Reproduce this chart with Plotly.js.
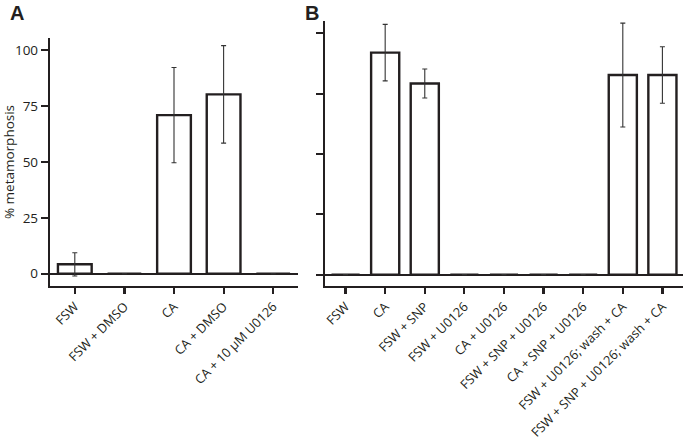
<!DOCTYPE html>
<html>
<head>
<meta charset="utf-8">
<script src="https://cdn.plot.ly/plotly-3.0.1.min.js"></script>
<style>html,body{margin:0;padding:0;background:#fff;}#chart{width:685px;height:442px;}</style>
</head>
<body>
<div id="chart"></div>
<script>
const catsA = ["FSW", "FSW + DMSO", "CA", "CA + DMSO", "CA + 10 µM U0126"];
const valsA = [4.2, 0, 70.9, 80.2, 0];
const errA = [5.2, 0, 21.3, 21.8, 0];

const catsB = ["FSW", "CA", "FSW + SNP", "FSW + U0126", "CA + U0126", "FSW + SNP + U0126",
  "CA + SNP + U0126", "FSW + U0126; wash + CA", "FSW + SNP + U0126; wash + CA"];
const valsB = [0, 92.0, 79.2, 0, 0, 0, 0, 82.7, 82.7];
const errB = [0, 11.7, 6.0, 0, 0, 0, 0, 21.5, 11.7];

const yTicks = [0, 25, 50, 75, 100];

const ink = "#231f20";
const barStyle = {color: "#ffffff", line: {color: ink, width: 2.4}};
const errStyle = {type: "data", visible: true, color: "#333333", thickness: 1.1, width: 2.5};

const traces = [
  {type: "bar", x: catsA, y: valsA, width: 0.68, marker: barStyle,
   error_y: Object.assign({array: errA}, errStyle), xaxis: "x", yaxis: "y", hoverinfo: "none"},
  {type: "bar", x: catsB, y: valsB, width: 0.71, marker: barStyle,
   error_y: Object.assign({array: errB}, errStyle), xaxis: "x2", yaxis: "y2", hoverinfo: "none"}
];

const font = {family: "Open Sans, Liberation Sans, sans-serif", size: 12, color: ink};
const xCommon = {type: "category", showline: true, linecolor: ink, linewidth: 2.2,
  ticks: "outside", ticklen: 6, tickwidth: 2.2, tickcolor: ink, tickangle: -45,
  showgrid: false, zeroline: false, tickfont: {family: font.family, size: 12.8, color: ink}, fixedrange: true};
const yCommon = {showline: true, linecolor: ink, linewidth: 2.2, ticks: "outside", ticklen: 7,
  tickwidth: 2.2, tickcolor: ink, tickvals: yTicks, showgrid: false, zeroline: true,
  zerolinecolor: ink, zerolinewidth: 2.2, tickfont: {family: font.family, size: 13.5, color: ink}, fixedrange: true};

const layout = {
  width: 685, height: 442,
  margin: {l: 50, r: 2, t: 21, b: 156},
  paper_bgcolor: "#fff", plot_bgcolor: "#fff",
  font: font,
  showlegend: false,
  bargap: 0.3,
  xaxis: Object.assign({}, xCommon, {domain: [0, 0.3918], range: [-0.5, 4.5], anchor: "y"}),
  xaxis2: Object.assign({}, xCommon, {domain: [0.4344, 1], range: [-0.52, 8.52], anchor: "y2"}),
  yaxis: Object.assign({}, yCommon, {domain: [0, 0.9358], range: [-5.5, 105.4], anchor: "x",
    title: {text: "% metamorphosis", font: {family: font.family, size: 13.5, color: ink}, standoff: 6}}),
  yaxis2: Object.assign({}, yCommon, {domain: [0, 1], range: [-4.7, 105.1], anchor: "x2", showticklabels: false}),
  annotations: [
    {text: "<b>A</b>", xref: "paper", yref: "paper", x: -0.066, y: 1.08, xanchor: "left", yanchor: "top",
     showarrow: false, font: {family: "Liberation Sans, Arial, sans-serif", size: 20, color: ink}},
    {text: "<b>B</b>", xref: "paper", yref: "paper", x: 0.4, y: 1.08, xanchor: "left", yanchor: "top",
     showarrow: false, font: {family: "Liberation Sans, Arial, sans-serif", size: 20, color: ink}}
  ]
};

Plotly.newPlot("chart", traces, layout, {displayModeBar: false, staticPlot: true});
</script>
</body>
</html>
